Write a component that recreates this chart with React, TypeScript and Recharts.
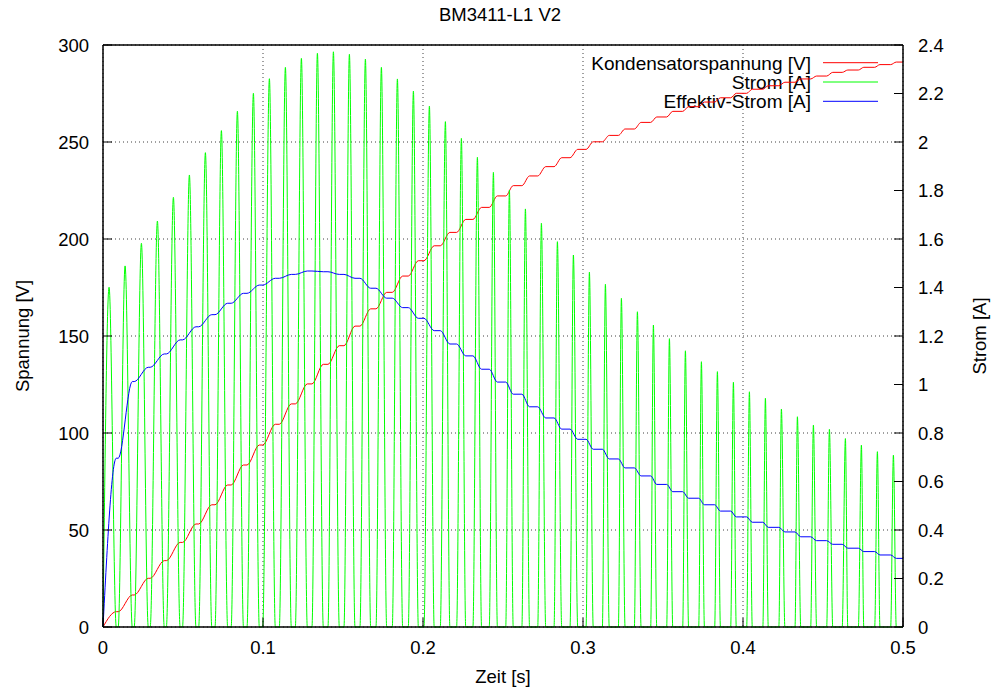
import { LineChart, Line, XAxis, YAxis, CartesianGrid } from "recharts"

const FONT = '"Liberation Sans", Arial, Helvetica, sans-serif'

// Ladestrom-Pulse: Beginn, Maximum, Ende [s]
const pulseStart = [
  0, 0.0095, 0.0195, 0.0295, 0.0396, 0.0497, 0.0598, 0.07, 0.0801, 0.09,
  0.0998, 0.1102, 0.1202, 0.1306, 0.1406, 0.1506, 0.1606, 0.1706, 0.1808, 0.1908,
  0.2006, 0.2108, 0.221, 0.2312, 0.2414, 0.2517, 0.2618, 0.2717, 0.2819, 0.2919,
  0.3019, 0.3121, 0.3221, 0.3321, 0.3423, 0.3523, 0.3623, 0.3723, 0.3823, 0.3923,
  0.4023, 0.4124, 0.4224, 0.4325, 0.4423, 0.4523, 0.462, 0.4721, 0.4823, 0.4923,
]
const pulsePeak = [
  0.0038, 0.0138, 0.024, 0.034, 0.044, 0.054, 0.064, 0.074, 0.084, 0.094,
  0.104, 0.114, 0.124, 0.134, 0.144, 0.154, 0.164, 0.174, 0.184, 0.194,
  0.204, 0.214, 0.224, 0.234, 0.244, 0.254, 0.264, 0.274, 0.284, 0.294,
  0.304, 0.314, 0.324, 0.334, 0.344, 0.354, 0.364, 0.374, 0.384, 0.394,
  0.404, 0.414, 0.424, 0.434, 0.444, 0.454, 0.464, 0.474, 0.484, 0.494,
]
const pulseEnd = [
  0.0083, 0.0183, 0.0283, 0.0383, 0.0482, 0.0581, 0.068, 0.0779, 0.0878, 0.0977,
  0.1077, 0.1177, 0.1277, 0.1377, 0.1477, 0.1575, 0.1673, 0.1773, 0.1873, 0.1971,
  0.207, 0.2168, 0.2267, 0.2366, 0.2465, 0.2564, 0.2666, 0.2767, 0.2867, 0.2967,
  0.3064, 0.3164, 0.3263, 0.3363, 0.3461, 0.3561, 0.366, 0.3759, 0.3859, 0.3958,
  0.4058, 0.4158, 0.4262, 0.4361, 0.446, 0.4561, 0.4655, 0.4755, 0.4856, 0.4958,
]

// Spitzenstrom je Puls [A]
const peakStrom = [
  1.401, 1.489, 1.582, 1.674, 1.772, 1.864, 1.956, 2.047, 2.127, 2.201,
  2.261, 2.308, 2.345, 2.366, 2.372, 2.362, 2.342, 2.308, 2.26, 2.21,
  2.148, 2.084, 2.015, 1.937, 1.875, 1.802, 1.724, 1.665, 1.589, 1.534,
  1.463, 1.413, 1.355, 1.3, 1.245, 1.189, 1.139, 1.094, 1.053, 1.009,
  0.97, 0.943, 0.899, 0.867, 0.833, 0.815, 0.777, 0.75, 0.723, 0.709,
]

// Kondensatorspannung nach jedem Puls [V]
const capVoltage = [
  7.9, 16.5, 25.1, 34.2, 43.6, 53.1, 63.0, 73.2, 83.5, 93.8,
  104.5, 115.0, 125.3, 135.4, 145.0, 155.1, 164.0, 172.5, 180.9, 188.8,
  196.5, 203.4, 210.1, 216.3, 222.2, 227.5, 232.5, 237.3, 241.9, 246.2,
  250.1, 253.4, 256.7, 260.1, 262.9, 265.8, 268.2, 270.6, 272.8, 275.1,
  277.2, 279.0, 280.8, 282.5, 284.0, 285.9, 287.1, 288.5, 289.9, 291.2,
]

// Effektivstrom nach jedem Puls [A]
const rmsStrom = [
  0.696, 1.012, 1.071, 1.126, 1.184, 1.238, 1.288, 1.335, 1.376, 1.41,
  1.438, 1.454, 1.468, 1.465, 1.454, 1.438, 1.397, 1.356, 1.317, 1.273,
  1.222, 1.167, 1.118, 1.063, 1.01, 0.96, 0.908, 0.862, 0.816, 0.774,
  0.733, 0.693, 0.656, 0.623, 0.588, 0.558, 0.531, 0.504, 0.478, 0.454,
  0.432, 0.411, 0.392, 0.372, 0.356, 0.341, 0.325, 0.311, 0.297, 0.283,
]

const xTicks = [0, 0.1, 0.2, 0.3, 0.4, 0.5]
const voltTicks = [0, 50, 100, 150, 200, 250, 300]
const ampTicks = [0, 0.2, 0.4, 0.6, 0.8, 1, 1.2, 1.4, 1.6, 1.8, 2, 2.2, 2.4]

const legendItems = [
  { name: "Kondensatorspannung [V]", color: "#ff0000" },
  { name: "Strom [A]", color: "#00ff00" },
  { name: "Effektiv-Strom [A]", color: "#0000ff" },
]

const stromData = pulsePeak
  .flatMap((p, k) => [
    { t: pulseStart[k], v: 0 },
    { t: p, v: peakStrom[k] },
    { t: pulseEnd[k], v: 0 },
  ])
  .concat([{ t: 0.5, v: 0 }])

// value changes while a pulse flows, stays flat in between
function stairs(values: number[]) {
  const pts = [{ t: 0, v: 0 }]
  values.forEach((v, k) => {
    pts.push({ t: pulseEnd[k], v })
    pts.push({ t: k + 1 < values.length ? pulseStart[k + 1] : 0.5, v })
  })
  return pts
}

const voltData = stairs(capVoltage)
const rmsData = stairs(rmsStrom)

const FS = 18.5
const TICK = 9
const GAP_X = 14
const GAP_Y = 14
const GAP_R = 15
const border = { stroke: "#000", strokeWidth: 1.5 }

// gnuplot-style ticks: mark points into the plot, label outside
function tickFor(side: "left" | "right" | "bottom" | "top") {
  return (props: any) => {
    const { x, y, payload } = props
    const label = String(payload.value)
    if (side === "left") {
      return (
        <g>
          <line x1={x + GAP_Y} x2={x + GAP_Y + TICK} y1={y} y2={y} stroke="#000" />
          <text x={x} y={y} dy="0.355em" textAnchor="end" fontSize={FS} fontFamily={FONT} fill="#000">{label}</text>
        </g>
      )
    }
    if (side === "right") {
      return (
        <g>
          <line x1={x - GAP_R} x2={x - GAP_R - TICK} y1={y} y2={y} stroke="#000" />
          <text x={x} y={y} dy="0.355em" textAnchor="start" fontSize={FS} fontFamily={FONT} fill="#000">{label}</text>
        </g>
      )
    }
    if (side === "bottom") {
      return (
        <g>
          <line x1={x} x2={x} y1={y - GAP_X} y2={y - GAP_X - TICK} stroke="#000" />
          <text x={x} y={y} dy="0.71em" textAnchor="middle" fontSize={FS} fontFamily={FONT} fill="#000">{label}</text>
        </g>
      )
    }
    return <line x1={x} x2={x} y1={y} y2={y + TICK} stroke="#000" />
  }
}

export default function App() {
  return (
    <div style={{ position: "absolute", left: 0, top: 0, width: 999, height: 691, background: "#fff" }}>
      <LineChart width={999} height={691} margin={{ top: 35, right: 6, bottom: 24, left: 3 }}>
        <CartesianGrid xAxisId="bottom" yAxisId="volt" stroke="#404040" strokeDasharray="1 3" />
        <XAxis
          xAxisId="bottom"
          dataKey="t"
          type="number"
          domain={[0, 0.5]}
          ticks={xTicks}
          interval={0}
          height={40}
          tickSize={0}
          tickMargin={GAP_X}
          tick={tickFor("bottom")}
          tickLine={false}
          axisLine={border}
        />
        <XAxis
          xAxisId="top"
          orientation="top"
          dataKey="t"
          type="number"
          domain={[0, 0.5]}
          ticks={xTicks}
          interval={0}
          height={10}
          tickSize={0}
          tickMargin={0}
          tick={tickFor("top")}
          tickLine={false}
          axisLine={border}
        />
        <YAxis
          yAxisId="volt"
          type="number"
          domain={[0, 300]}
          ticks={voltTicks}
          interval={0}
          width={100}
          tickSize={0}
          tickMargin={GAP_Y}
          tick={tickFor("left")}
          tickLine={false}
          axisLine={border}
        />
        <YAxis
          yAxisId="amp"
          orientation="right"
          type="number"
          domain={[0, 2.4]}
          ticks={ampTicks}
          interval={0}
          width={90}
          tickSize={0}
          tickMargin={GAP_R}
          tick={tickFor("right")}
          tickLine={false}
          axisLine={border}
        />
        <Line
          xAxisId="bottom"
          yAxisId="volt"
          data={voltData}
          dataKey="v"
          type="monotone"
          stroke="#ff0000"
          strokeWidth={1}
          dot={false}
          isAnimationActive={false}
        />
        <Line
          xAxisId="bottom"
          yAxisId="amp"
          data={stromData}
          dataKey="v"
          type="monotone"
          stroke="#00ff00"
          strokeWidth={1}
          dot={false}
          isAnimationActive={false}
        />
        <Line
          xAxisId="bottom"
          yAxisId="amp"
          data={rmsData}
          dataKey="v"
          type="monotone"
          stroke="#0000ff"
          strokeWidth={1}
          dot={false}
          isAnimationActive={false}
        />
        <g fontFamily={FONT} fill="#000">
          <text x={500} y={21} fontSize={FS} textAnchor="middle">BM3411-L1 V2</text>
          <text x={503} y={683} fontSize={FS} textAnchor="middle">Zeit [s]</text>
          <text x={29} y={336} fontSize={FS} textAnchor="middle" transform="rotate(-90 29 336)">Spannung [V]</text>
          <text x={986} y={336} fontSize={FS} textAnchor="middle" transform="rotate(-90 986 336)">Strom [A]</text>
          {legendItems.map((item, i) => (
            <g key={item.name}>
              <text x={811} y={69.5 + i * 19.3} fontSize={19} textAnchor="end">{item.name}</text>
              <line x1={823} x2={878} y1={62.7 + i * 19.3} y2={62.7 + i * 19.3} stroke={item.color} strokeWidth={1} />
            </g>
          ))}
        </g>
      </LineChart>
    </div>
  )
}
